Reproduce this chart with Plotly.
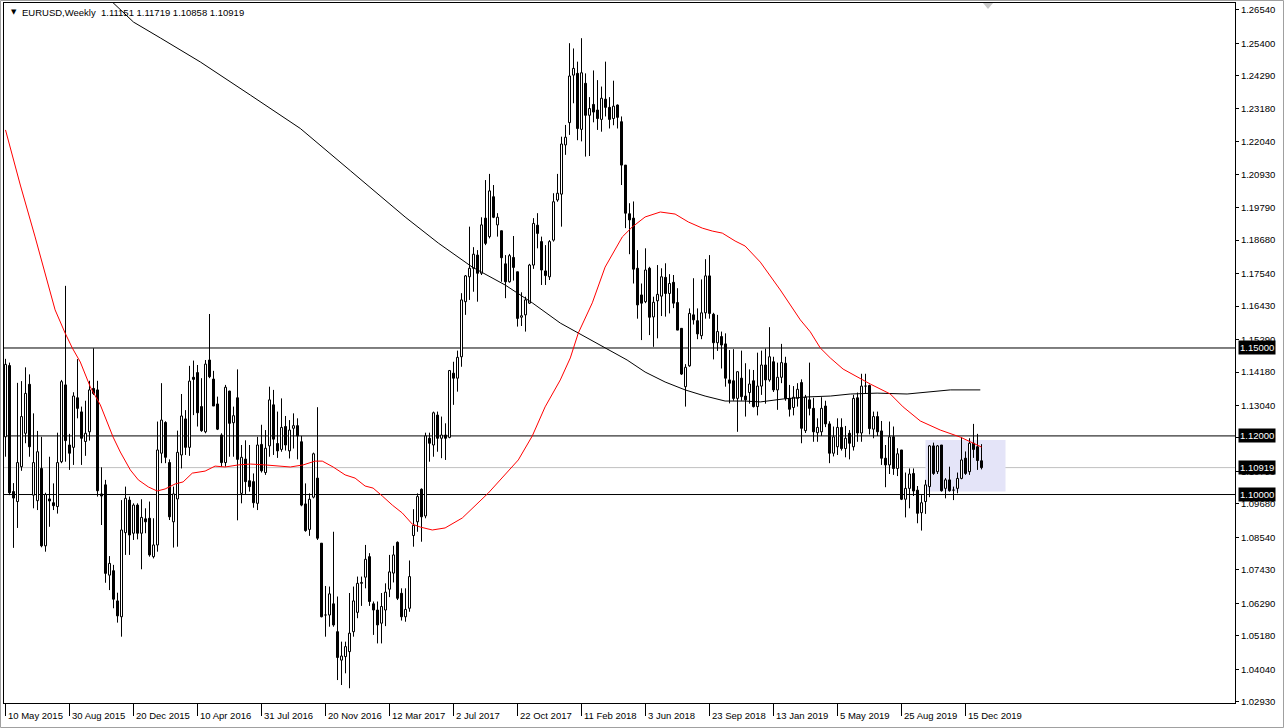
import plotly.graph_objects as go

# ---------------- data (weekly EURUSD, bar index 0 = week of 10 May 2015) ----------------
opens = [
    1.1197, 1.1440, 1.1010, 1.0976, 1.1095, 1.1209, 1.1376, 1.0998, 1.0979, 1.1089,
    1.0825, 1.0985, 1.0972, 1.0959, 1.1112, 1.1374, 1.1169, 1.1161, 1.1330, 1.1282,
    1.1181, 1.1214, 1.1362, 1.1357, 1.1002, 1.1033, 1.0725, 1.0740, 1.0637, 1.0583,
    1.0870, 1.0981, 1.0868, 1.0964, 1.0868, 1.0917, 1.0919, 1.0788, 1.0828, 1.1141,
    1.1246, 1.1109, 1.0907, 1.0985, 1.1135, 1.1258, 1.1161, 1.1400, 1.1416, 1.1300,
    1.1214, 1.1459, 1.1394, 1.1309, 1.1203, 1.1109, 1.1353, 1.1245, 1.1330, 1.1004,
    1.1121, 1.1047, 1.1044, 1.0970, 1.1171, 1.1075, 1.1166, 1.1306, 1.1174, 1.1154,
    1.1232, 1.1149, 1.1226, 1.1235, 1.1180, 1.0968, 1.0881, 1.0991, 1.1056, 1.0834,
    1.0589, 1.0589, 1.0627, 1.0532, 1.0435, 1.0447, 1.0464, 1.0532, 1.0598, 1.0697,
    1.0718, 1.0788, 1.0627, 1.0606, 1.0561, 1.0606, 1.0677, 1.0732, 1.0837, 1.0663,
    1.0583, 1.0612, 1.0860, 1.0907, 1.1018, 1.0927, 1.1192, 1.1169, 1.1271, 1.1192,
    1.1203, 1.1195, 1.1414, 1.1397, 1.1470, 1.1658, 1.1743, 1.1772, 1.1817, 1.1755,
    1.1943, 1.1880, 1.2016, 1.1920, 1.1900, 1.1787, 1.1726, 1.1809, 1.1760, 1.1605,
    1.1613, 1.1653, 1.1783, 1.1919, 1.1863, 1.1763, 1.1743, 1.1868, 1.2005, 1.2025,
    1.2193, 1.2269, 1.2431, 1.2437, 1.2246, 1.2403, 1.2294, 1.2331, 1.2312, 1.2280,
    1.2349, 1.2321, 1.2283, 1.2329, 1.2272, 1.2124, 1.1958, 1.1943, 1.1772, 1.1681,
    1.1658, 1.1772, 1.1606, 1.1661, 1.1677, 1.1741, 1.1686, 1.1724, 1.1655, 1.1567,
    1.1368, 1.1439, 1.1613, 1.1593, 1.1542, 1.1620, 1.1746, 1.1615, 1.1518, 1.1539,
    1.1514, 1.1391, 1.1388, 1.1328, 1.1397, 1.1336, 1.1348, 1.1388, 1.1300, 1.1370,
    1.1442, 1.1391, 1.1453, 1.1357, 1.1400, 1.1448, 1.1328, 1.1297, 1.1328, 1.1382,
    1.1218, 1.1323, 1.1294, 1.1211, 1.1214, 1.1302, 1.1241, 1.1141, 1.1163, 1.1229,
    1.1157, 1.1209, 1.1163, 1.1330, 1.1210, 1.1370, 1.1372, 1.1223, 1.1266, 1.1217,
    1.1124, 1.1101, 1.1197, 1.1089, 1.1152, 1.0984, 1.1021, 1.1072, 1.1015, 1.0938,
    1.0976, 1.1027, 1.1166, 1.1078, 1.1169, 1.1021, 1.1050, 1.1015, 1.1021, 1.1055,
    1.1124, 1.1078, 1.1175, 1.1163, 1.11151,
]
highs = [
    1.1463, 1.1450, 1.1039, 1.1381, 1.1387, 1.1434, 1.1410, 1.1277, 1.1217, 1.1197,
    1.1006, 1.1129, 1.1038, 1.1211, 1.1391, 1.1712, 1.1207, 1.1349, 1.1462, 1.1300,
    1.1320, 1.1388, 1.1499, 1.1388, 1.1093, 1.1050, 1.0790, 1.0760, 1.0665, 1.0981,
    1.1027, 1.0993, 1.0970, 1.0970, 1.0984, 1.0953, 1.0976, 1.0919, 1.1249, 1.1380,
    1.1250, 1.1120, 1.1027, 1.1218, 1.1343, 1.1288, 1.1439, 1.1457, 1.1442, 1.1397,
    1.1459, 1.1616, 1.1422, 1.1334, 1.1209, 1.1374, 1.1354, 1.1300, 1.1427, 1.1169,
    1.1185, 1.1169, 1.1072, 1.1197, 1.1238, 1.1220, 1.1368, 1.1357, 1.1283, 1.1328,
    1.1268, 1.1254, 1.1277, 1.1260, 1.1200, 1.1038, 1.1004, 1.1143, 1.1298, 1.0834,
    1.0688, 1.0686, 1.0873, 1.0652, 1.0498, 1.0498, 1.0664, 1.0686, 1.0720, 1.0720,
    1.0828, 1.0800, 1.0635, 1.0635, 1.0664, 1.0697, 1.0794, 1.0825, 1.0840, 1.0680,
    1.0680, 1.0775, 1.0950, 1.1004, 1.1021, 1.1211, 1.1211, 1.1283, 1.1283, 1.1266,
    1.1243, 1.1425, 1.1453, 1.1491, 1.1687, 1.1749, 1.1914, 1.1844, 1.1834, 1.1946,
    1.2073, 1.2094, 1.2056, 1.1960, 1.1900, 1.1817, 1.1821, 1.1882, 1.1760, 1.1690,
    1.1675, 1.1787, 1.1943, 1.1960, 1.1880, 1.1851, 1.1868, 1.2028, 1.2094, 1.2221,
    1.2261, 1.2540, 1.2522, 1.2477, 1.2557, 1.2437, 1.2356, 1.2447, 1.2414, 1.2392,
    1.2477, 1.2356, 1.2412, 1.2331, 1.2290, 1.2124, 1.1994, 1.2000, 1.1834, 1.1720,
    1.1840, 1.1777, 1.1675, 1.1783, 1.1772, 1.1789, 1.1752, 1.1749, 1.1704, 1.1567,
    1.1445, 1.1635, 1.1738, 1.1635, 1.1734, 1.1803, 1.1817, 1.1620, 1.1613, 1.1556,
    1.1550, 1.1493, 1.1496, 1.1420, 1.1491, 1.1448, 1.1427, 1.1425, 1.1484, 1.1491,
    1.1498, 1.1571, 1.1470, 1.1450, 1.1514, 1.1470, 1.1374, 1.1370, 1.1380, 1.1393,
    1.1340, 1.1450, 1.1330, 1.1260, 1.1332, 1.1320, 1.1250, 1.1232, 1.1260, 1.1260,
    1.1234, 1.1220, 1.1340, 1.1348, 1.1412, 1.1412, 1.1375, 1.1283, 1.1283, 1.1251,
    1.1169, 1.1249, 1.1232, 1.1158, 1.1152, 1.1075, 1.1089, 1.1089, 1.1029, 1.0998,
    1.1050, 1.1169, 1.1177, 1.1169, 1.1169, 1.1056, 1.1095, 1.1027, 1.1075, 1.1195,
    1.1147, 1.1192, 1.1241, 1.1207, 1.11719,
]
lows = [
    1.1129, 1.0998, 1.0818, 1.0886, 1.1081, 1.1175, 1.1129, 1.0953, 1.0947, 1.0820,
    1.0805, 1.0890, 1.0947, 1.0935, 1.1107, 1.1112, 1.1084, 1.1101, 1.1260, 1.1101,
    1.1132, 1.1184, 1.1340, 1.0993, 1.0896, 1.0699, 1.0674, 1.0612, 1.0563, 1.0515,
    1.0794, 1.0794, 1.0845, 1.0847, 1.0745, 1.0868, 1.0788, 1.0782, 1.0805, 1.1107,
    1.1107, 1.0913, 1.0819, 1.0822, 1.1089, 1.1135, 1.1132, 1.1271, 1.1232, 1.1214,
    1.1209, 1.1397, 1.1302, 1.1220, 1.1095, 1.1095, 1.1129, 1.1129, 1.0912, 1.0970,
    1.1000, 1.1010, 1.0955, 1.0947, 1.1075, 1.1067, 1.1129, 1.1135, 1.1125, 1.1146,
    1.1150, 1.1123, 1.1157, 1.1120, 1.0960, 1.0873, 1.0859, 1.0987, 1.0845, 1.0581,
    1.0515, 1.0549, 1.0549, 1.0367, 1.0350, 1.0390, 1.0339, 1.0515, 1.0578, 1.0620,
    1.0680, 1.0620, 1.0521, 1.0492, 1.0492, 1.0551, 1.0650, 1.0700, 1.0640, 1.0570,
    1.0566, 1.0600, 1.0822, 1.0873, 1.0839, 1.0919, 1.1112, 1.1129, 1.1146, 1.1124,
    1.1118, 1.1192, 1.1306, 1.1351, 1.1436, 1.1613, 1.1664, 1.1692, 1.1658, 1.1749,
    1.1851, 1.1874, 1.1943, 1.1880, 1.1726, 1.1670, 1.1723, 1.1730, 1.1573, 1.1575,
    1.1556, 1.1650, 1.1770, 1.1840, 1.1715, 1.1715, 1.1732, 1.1863, 1.1999, 1.1914,
    1.2159, 1.2227, 1.2335, 1.2209, 1.2205, 1.2153, 1.2155, 1.2270, 1.2244, 1.2238,
    1.2290, 1.2249, 1.2260, 1.2249, 1.2056, 1.1909, 1.1820, 1.1720, 1.1600, 1.1527,
    1.1653, 1.1544, 1.1504, 1.1533, 1.1609, 1.1607, 1.1618, 1.1636, 1.1561, 1.1408,
    1.1300, 1.1436, 1.1580, 1.1530, 1.1530, 1.1600, 1.1600, 1.1461, 1.1490, 1.1430,
    1.1368, 1.1311, 1.1320, 1.1214, 1.1320, 1.1266, 1.1310, 1.1297, 1.1270, 1.1340,
    1.1310, 1.1385, 1.1350, 1.1289, 1.1380, 1.1320, 1.1266, 1.1270, 1.1300, 1.1175,
    1.1210, 1.1270, 1.1180, 1.1180, 1.1200, 1.1230, 1.1107, 1.1130, 1.1135, 1.1150,
    1.1127, 1.1120, 1.1150, 1.1180, 1.1180, 1.1345, 1.1205, 1.1192, 1.1200, 1.1101,
    1.1025, 1.1070, 1.1067, 1.1063, 1.0981, 1.0922, 1.0953, 1.0995, 1.0902, 1.0877,
    1.0934, 1.0991, 1.1067, 1.1070, 1.1010, 1.0987, 1.1010, 1.0981, 1.1004, 1.1052,
    1.1067, 1.1067, 1.1125, 1.1084, 1.10858,
]
closes = [
    1.1444, 1.1006, 1.0988, 1.1109, 1.1266, 1.1345, 1.1163, 1.1109, 1.1146, 1.0825,
    1.1000, 1.0978, 1.0962, 1.1109, 1.1385, 1.1184, 1.1141, 1.1336, 1.1294, 1.1192,
    1.1209, 1.1357, 1.1345, 1.1013, 1.0995, 1.0731, 1.0765, 1.0643, 1.0586, 1.0879,
    1.0987, 1.0862, 1.0964, 1.0868, 1.0922, 1.0907, 1.0794, 1.0828, 1.1152, 1.1254,
    1.1127, 1.0924, 1.1002, 1.1144, 1.1268, 1.1161, 1.1387, 1.1393, 1.1279, 1.1218,
    1.1445, 1.1402, 1.1302, 1.1223, 1.1109, 1.1366, 1.1243, 1.1269, 1.1120, 1.1127,
    1.1044, 1.1027, 1.0972, 1.1169, 1.1081, 1.1158, 1.1323, 1.1189, 1.1149, 1.1229,
    1.1169, 1.1220, 1.1235, 1.1200, 1.0964, 1.0877, 1.0984, 1.1139, 1.0851, 1.0583,
    1.0587, 1.0661, 1.0555, 1.0444, 1.0449, 1.0481, 1.0527, 1.0637, 1.0697, 1.0700,
    1.0779, 1.0635, 1.0606, 1.0555, 1.0618, 1.0667, 1.0736, 1.0794, 1.0646, 1.0583,
    1.0608, 1.0720, 1.0895, 1.0993, 1.0924, 1.1200, 1.1175, 1.1279, 1.1192, 1.1203,
    1.1192, 1.1423, 1.1397, 1.1468, 1.1664, 1.1746, 1.1772, 1.1820, 1.1755, 1.1920,
    1.1857, 1.2036, 1.1946, 1.1946, 1.1808, 1.1726, 1.1815, 1.1775, 1.1601, 1.1610,
    1.1664, 1.1783, 1.1925, 1.1891, 1.1766, 1.1747, 1.1863, 1.1999, 1.2028, 1.2196,
    1.2219, 1.2428, 1.2454, 1.2249, 1.2439, 1.2294, 1.2317, 1.2305, 1.2283, 1.2352,
    1.2321, 1.2280, 1.2325, 1.2287, 1.2124, 1.1960, 1.1937, 1.1769, 1.1647, 1.1653,
    1.1766, 1.1605, 1.1656, 1.1683, 1.1743, 1.1686, 1.1720, 1.1653, 1.1561, 1.1411,
    1.1434, 1.1618, 1.1596, 1.1548, 1.1620, 1.1746, 1.1618, 1.1518, 1.1556, 1.1510,
    1.1397, 1.1380, 1.1328, 1.1419, 1.1334, 1.1323, 1.1377, 1.1300, 1.1370, 1.1442,
    1.1391, 1.1470, 1.1357, 1.1400, 1.1450, 1.1328, 1.1291, 1.1332, 1.1359, 1.1226,
    1.1332, 1.1294, 1.1214, 1.1229, 1.1294, 1.1241, 1.1141, 1.1197, 1.1229, 1.1157,
    1.1192, 1.1175, 1.1328, 1.1210, 1.1370, 1.1372, 1.1225, 1.1266, 1.1214, 1.1124,
    1.1101, 1.1197, 1.1089, 1.1139, 1.0984, 1.1021, 1.1070, 1.1012, 1.0936, 1.0972,
    1.1033, 1.1166, 1.1072, 1.1166, 1.1013, 1.1050, 1.1013, 1.1013, 1.1055, 1.1118,
    1.1072, 1.1175, 1.1154, 1.1116, 1.10919,
]

# moving averages (bar index, price)
red_ma_bars = [0, 3.7, 7.4, 10.4, 12.4, 14.9, 16.7, 18.7, 21.2, 23.7,
               26.9, 28.7, 31.2, 33.2, 35.7, 37.9, 39.9, 42.4, 44.4, 46.7,
               49.9, 52.4, 54.9, 58.2, 61.2, 64.9, 68.2, 71.2, 74.4, 77.4,
               79.2, 81.9, 84.9, 87.4, 89.9, 91.9, 94.2, 96.7, 99.2, 101.7,
               103.7, 106.7, 109.9, 114.2, 120.7, 128.2, 131.7, 134.9, 138.7, 141.2,
               143.2, 146.7, 149.9, 154.2, 156.7, 158.7, 159.9, 163.7, 167.4, 170.7,
               174.2, 176.7, 179.2, 182.4, 184.9, 188.7, 193.7, 198.7, 201.2, 203.7,
               206.2, 209.4, 212.9, 216.2, 221.2, 224.4, 228.7, 233.7, 238.7, 241.9,
               244]
red_ma_vals = [1.2244, 1.2056, 1.1879, 1.1732, 1.1630, 1.1551, 1.1500, 1.1452, 1.1367, 1.1306,
               1.1196, 1.1145, 1.1084, 1.1050, 1.1026, 1.1012, 1.1019, 1.1036, 1.1043, 1.1073,
               1.1080, 1.1097, 1.1094, 1.1101, 1.1104, 1.1101, 1.1097, 1.1094, 1.1101, 1.1114,
               1.1114, 1.1094, 1.1067, 1.1056, 1.1029, 1.1022, 1.0995, 1.0964, 1.0937, 1.0899,
               1.0889, 1.0879, 1.0886, 1.0920, 1.1005, 1.1118, 1.1200, 1.1299, 1.1391, 1.1466,
               1.1551, 1.1654, 1.1776, 1.1879, 1.1913, 1.1933, 1.1947, 1.1964, 1.1957, 1.1930,
               1.1909, 1.1899, 1.1892, 1.1865, 1.1848, 1.1793, 1.1698, 1.1596, 1.1555, 1.1500,
               1.1466, 1.1428, 1.1401, 1.1377, 1.1343, 1.1299, 1.1251, 1.1220, 1.1196, 1.1176,
               1.1162]
black_ma_bars = [26.2, 32, 38.7, 48.7, 61.2, 73.7, 86.2, 99.9, 108.2, 116.7,
                 124.9, 131.7, 138.7, 143.2, 149.9, 155.4, 159.9, 164.9, 169.9, 174.9,
                 179.9, 184.9, 188.7, 194.4, 200.4, 206.2, 211.2, 217.9, 225.4, 231.2,
                 236.2, 243.7]
black_ma_vals = [1.2687, 1.2612, 1.2558, 1.2476, 1.2363, 1.2249, 1.2105, 1.1947, 1.1858, 1.1776,
                 1.1715, 1.1654, 1.1585, 1.1551, 1.1500, 1.1459, 1.1418, 1.1384, 1.1357, 1.1336,
                 1.1319, 1.1319, 1.1316, 1.1326, 1.1333, 1.1336, 1.1343, 1.1346, 1.1343, 1.1350,
                 1.1357, 1.1357]

tick_bars = [0, 16, 32, 48, 64, 80, 96, 112, 128, 144, 160, 176, 192, 208, 224, 240]
tick_labels = ["10 May 2015", "30 Aug 2015", "20 Dec 2015", "10 Apr 2016", "31 Jul 2016",
               "20 Nov 2016", "12 Mar 2017", "2 Jul 2017", "22 Oct 2017", "11 Feb 2018",
               "3 Jun 2018", "23 Sep 2018", "13 Jan 2019", "5 May 2019", "25 Aug 2019",
               "15 Dec 2019"]
price_ticks = [1.26540, 1.25400, 1.24290, 1.23180, 1.22040, 1.20930, 1.19790, 1.18680,
               1.17540, 1.16430, 1.15290, 1.14180, 1.13040, 1.11930, 1.10790, 1.09680,
               1.08540, 1.07430, 1.06290, 1.05180, 1.04040, 1.02930]
level_prices = [1.15000, 1.12000, 1.10000]
last_price = 1.10919
header_ohlc = ["1.11151", "1.11719", "1.10858", "1.10919"]
zone_bars = [230, 250]
zone_prices = [1.1010, 1.1186]

# ---------------- figure geometry ----------------
W, H = 1284, 728
ML, MR, MT, MB = 4, 49, 3, 25
PW, PH = W - ML - MR, H - MT - MB
x_range = [-0.375, -0.375 + PW / 4.0]
y_range = [1.02887, 1.26771]
FONT = "Liberation Sans, Arial, sans-serif"
HALF = 0.25

fig = go.Figure()

# wicks
wx, wy = [], []
for i in range(len(opens)):
    wx += [i, i, None]
    wy += [lows[i], highs[i], None]
fig.add_trace(go.Scatter(x=wx, y=wy, mode="lines", line=dict(color="black", width=1),
                         hoverinfo="skip"))


def bodies(up):
    xs, ys = [], []
    for i in range(len(opens)):
        o, c = opens[i], closes[i]
        if (c >= o) != up:
            continue
        xs += [i - HALF, i + HALF, i + HALF, i - HALF, i - HALF, None]
        ys += [o, o, c, c, o, None]
    return xs, ys


bx, by = bodies(True)
fig.add_trace(go.Scatter(x=bx, y=by, mode="lines", fill="toself", fillcolor="white",
                         line=dict(color="black", width=1), hoverinfo="skip"))
sx, sy = bodies(False)
fig.add_trace(go.Scatter(x=sx, y=sy, mode="lines", fill="toself", fillcolor="black",
                         line=dict(color="black", width=1), hoverinfo="skip"))

# moving averages
fig.add_trace(go.Scatter(x=black_ma_bars, y=black_ma_vals, mode="lines",
                         line=dict(color="black", width=1), hoverinfo="skip"))
fig.add_trace(go.Scatter(x=red_ma_bars, y=red_ma_vals, mode="lines",
                         line=dict(color="red", width=1), hoverinfo="skip"))

shapes = []
# highlighted zone
shapes.append(dict(type="rect", xref="x", yref="y", x0=zone_bars[0], x1=zone_bars[1],
                   y0=zone_prices[0], y1=zone_prices[1], fillcolor="#E4E4F8",
                   line=dict(width=0), layer="below"))
# current price line
shapes.append(dict(type="line", xref="paper", yref="y", x0=0, x1=1, y0=last_price,
                   y1=last_price, line=dict(color="#C0C0C0", width=1), layer="below"))
for lv in level_prices:
    shapes.append(dict(type="line", xref="paper", yref="y", x0=0, x1=1, y0=lv, y1=lv,
                       line=dict(color="black", width=1), layer="below"))
# outer window frame
shapes.append(dict(type="rect", xref="paper", yref="paper",
                   x0=(0.5 - ML) / PW, x1=(W - 0.5 - ML) / PW,
                   y0=(MT + PH - (H - 0.5)) / PH, y1=(MT + PH - 0.5) / PH,
                   line=dict(color="#A0A0A0", width=1), fillcolor="rgba(0,0,0,0)"))
# chart-shift marker at top
shapes.append(dict(type="path", xref="paper", yref="paper",
                   path="M {0} {1} L {2} {1} L {3} {4} Z".format(
                       (983 - ML) / PW, 1.0, (993 - ML) / PW, (988 - ML) / PW,
                       (MT + PH - 9) / PH),
                   fillcolor="#C8C8C8", line=dict(width=0)))

annotations = []
for b, lab in zip(tick_bars, tick_labels):
    annotations.append(dict(x=b, y=0, xref="x", yref="paper", text=lab, showarrow=False,
                            xanchor="left", yanchor="top", xshift=0, yshift=-5,
                            font=dict(family=FONT, size=9.5, color="black")))
for lv in level_prices + [last_price]:
    annotations.append(dict(x=1, y=lv, xref="paper", yref="y", text="%.5f" % lv,
                            showarrow=False, xanchor="left", yanchor="middle", xshift=3,
                            bgcolor="black", borderpad=1,
                            font=dict(family=FONT, size=9.5, color="white")))
annotations.append(dict(x=(9 - ML) / PW, y=(MT + PH - 12) / PH, xref="paper", yref="paper",
                        text="\u25BC", showarrow=False, xanchor="left", yanchor="middle",
                        font=dict(family="DejaVu Sans", size=7, color="black")))
annotations.append(dict(x=(20 - ML) / PW, y=(MT + PH - 12) / PH, xref="paper", yref="paper",
                        text="EURUSD,Weekly\u00a0\u00a0" + " ".join(header_ohlc),
                        showarrow=False, xanchor="left", yanchor="middle",
                        font=dict(family=FONT, size=9.5, color="black")))

fig.update_layout(
    width=W, height=H,
    margin=dict(l=ML, r=MR, t=MT, b=MB, pad=0),
    paper_bgcolor="white", plot_bgcolor="white",
    showlegend=False, hovermode=False,
    shapes=shapes, annotations=annotations,
    xaxis=dict(range=x_range, showgrid=False, zeroline=False, showline=True,
               linecolor="black", linewidth=1, mirror=True,
               tickvals=tick_bars, ticks="outside", ticklen=12, tickcolor="black",
               tickwidth=1, showticklabels=False, fixedrange=True),
    yaxis=dict(range=y_range, side="right", showgrid=False, zeroline=False, showline=True,
               linecolor="black", linewidth=1, mirror=True,
               tickvals=price_ticks, ticktext=["%.5f" % p for p in price_ticks],
               ticks="outside", ticklen=3, tickcolor="black", tickwidth=1,
               tickfont=dict(family=FONT, size=9.5, color="black"), fixedrange=True),
)

fig.write_html("out.html", config={"displayModeBar": False},
               post_script="document.body.style.margin='0px';"
                           "document.body.style.overflow='hidden';")
